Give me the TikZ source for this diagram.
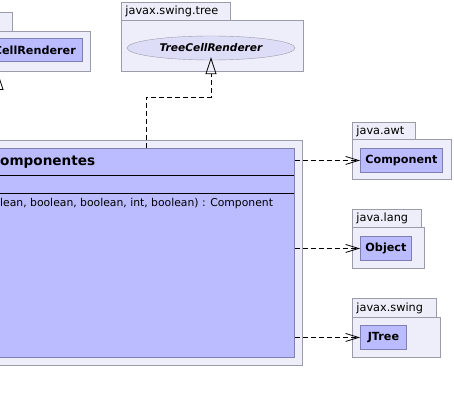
\documentclass[tikz,border=0pt]{standalone}
\usepackage{fontspec}
\setmainfont{DejaVu Sans}
\usetikzlibrary{arrows.meta, shapes.geometric}
\definecolor{pkgfill}{RGB}{238,238,250}
\definecolor{pkgline}{RGB}{155,155,170}
\definecolor{clsfill}{RGB}{187,187,255}
\definecolor{clsline}{RGB}{128,128,176}
\definecolor{ifcfill}{RGB}{221,221,248}

\begin{document}
\begin{tikzpicture}[x=1pt, y=-1pt,
        pkgbody/.style={draw=pkgline, fill=pkgfill, anchor=north west, inner sep=0pt, line width=0.9pt},
        pkgtab/.style={pkgbody, inner xsep=4pt, align=left, font=\fontsize{11.3}{13}\selectfont},
        cls/.style={draw=clsline, fill=clsfill, anchor=north west, inner sep=0pt, line width=0.9pt,
            font=\bfseries\fontsize{11.2}{13}\selectfont},
        dep/.style={dash pattern=on 5pt off 3pt, line width=0.8pt,
            -{Straight Barb[length=13pt, width=8pt, line width=0.8pt]}},
        realize/.style={dash pattern=on 5pt off 3pt, line width=0.8pt,
            -{Triangle[open, length=17pt, width=11pt, line width=0.8pt]}}]
    \useasboundingbox (0,0) rectangle (454,403);
    \clip (0,0) rectangle (454,403);

    % left package, cut off
    \node[pkgtab, minimum width=32pt, minimum height=19pt] (lefttab) at (-20,12) {};
    \node[pkgbody, minimum width=190pt, minimum height=40pt] (leftpkg) at (-100,31) {};
    \node[cls, minimum width=182pt, minimum height=23pt] (leftcls) at (-100,38) {};
    \node[anchor=east, inner sep=0pt, font=\bfseries\fontsize{11.2}{13}\selectfont] (leftname) at (76,50) {CellRenderer};
    \coordinate (leftsrc) at (-2,130);
    \coordinate (lefttip) at (-2,73);
    \draw[realize] (leftsrc) -- (lefttip);

    % javax.swing.tree
    \node[pkgtab, text width=101pt, minimum height=18pt] (treetab) at (121,2) {javax.swing.tree};
    \node[pkgbody, minimum width=182pt, minimum height=51pt] (treepkg) at (121,20) {};
    \node[ellipse, draw=pkgline, fill=ifcfill, minimum width=168pt, minimum height=24pt, inner sep=0pt,
        font=\bfseries\itshape\fontsize{10.6}{12}\selectfont] (tcr) at (211,48) {TreeCellRenderer};

    % main package
    \node[pkgbody, minimum width=362pt, minimum height=225pt] (mainpkg) at (-60,140) {};
    \node[cls, minimum width=354pt, minimum height=209pt] (renderer) at (-60,148) {};
    \draw[line width=0.8pt] (-60,175) -- (294,175);
    \draw[line width=0.8pt] (-60,193) -- (294,193);
    \node[anchor=west, inner sep=0pt, font=\bfseries\fontsize{13.6}{16}\selectfont] (title) at (0,162) {omponentes};
    \node[anchor=west, inner sep=0pt, font=\fontsize{10.8}{12}\selectfont] (method) at (0,204) {lean, boolean, boolean, int, boolean) : Component};

    % java.awt
    \node[pkgtab, text width=55pt, minimum height=17pt] (awttab) at (352,122) {java.awt};
    \node[pkgbody, minimum width=99pt, minimum height=40pt] (awtpkg) at (352,139) {};
    \node[cls, minimum width=82pt, minimum height=24pt] (comp) at (360,148) {Component};

    % java.lang
    \node[pkgtab, text width=61pt, minimum height=18pt] (langtab) at (352,209) {java.lang};
    \node[pkgbody, minimum width=72pt, minimum height=41pt] (langpkg) at (352,227) {};
    \node[cls, minimum width=51pt, minimum height=24pt] (obj) at (360,236) {Object};

    % javax.swing
    \node[pkgtab, text width=76pt, minimum height=19pt] (swingtab) at (352,298) {javax.swing};
    \node[pkgbody, minimum width=88pt, minimum height=40pt] (swingpkg) at (352,317) {};
    \node[cls, minimum width=46pt, minimum height=24pt] (jtree) at (360,325) {JTree};

    % connectors
    \coordinate (src) at (146,148);
    \draw[realize] (src) -- ++(0,-51) -| ([yshift=3pt]tcr.south);
    \draw[dep] (renderer.east |- comp) -- (comp.west);
    \draw[dep] (renderer.east |- obj) -- (obj.west);
    \draw[dep] (renderer.east |- jtree) -- (jtree.west);
\end{tikzpicture}
\end{document}
